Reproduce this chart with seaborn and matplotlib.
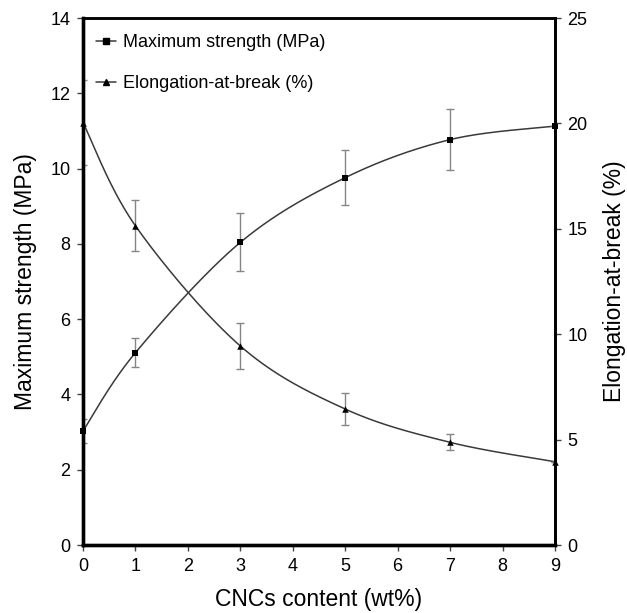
import numpy as np
import pandas as pd
import matplotlib
matplotlib.use("Agg")
import matplotlib.pyplot as plt
import seaborn as sns
from matplotlib.lines import Line2D

# CNC loading (wt%)
cnc_content = [0, 1, 3, 5, 7, 9]

# Maximum strength (MPa) with standard deviation
strength = [3.03, 5.11, 8.04, 9.76, 10.77, 11.13]
strength_err = [0.33, 0.39, 0.77, 0.74, 0.82, 0.0]

# Elongation at break (%) with standard deviation
elongation = [20.04, 15.14, 9.44, 6.45, 4.87, 3.95]
elongation_err = [2.0, 1.21, 1.11, 0.77, 0.38, 0.0]

x_ticks = [0, 1, 2, 3, 4, 5, 6, 7, 8, 9]
left_ticks = [0, 2, 4, 6, 8, 10, 12, 14]
right_ticks = [0, 5, 10, 15, 20, 25]


def smooth_curve(xs, ys, sx, sy, n=60):
    """Bezier smoothing through the points (Catmull-Rom style control points)."""
    p = np.column_stack([np.asarray(xs, float) * sx, np.asarray(ys, float) * sy])
    ext = np.vstack([p[0], p, p[-1]])
    t = np.linspace(0, 1, n)[:, None]
    parts = []
    for i in range(len(p) - 1):
        p0, p1, p2, p3 = ext[i], ext[i + 1], ext[i + 2], ext[i + 3]
        c1 = p1 + (p2 - p0) / 6.0
        c2 = p2 - (p3 - p1) / 6.0
        seg = ((1 - t) ** 3) * p1 + 3 * ((1 - t) ** 2) * t * c1 \
            + 3 * (1 - t) * t ** 2 * c2 + t ** 3 * p2
        parts.append(seg if i == 0 else seg[1:])
    pts = np.vstack(parts)
    return pts[:, 0] / sx, pts[:, 1] / sy


sns.set_theme(style="ticks")
plt.rcParams["font.family"] = ["Liberation Sans", "DejaVu Sans"]
plt.rcParams["text.color"] = "black"
plt.rcParams["axes.labelcolor"] = "black"
plt.rcParams["xtick.color"] = "black"
plt.rcParams["ytick.color"] = "black"

fig = plt.figure(figsize=(6.27, 6.13), dpi=100)
ax = fig.add_axes([0.1324, 0.1109, 0.7528, 0.8597])
ax2 = ax.twinx()

line_col = "#3a3a3a"
err_col = "#858585"

# scale factors: axes pixel extent per data unit
sx = 472 / 9.0
sy_left = 527 / 14.0
sy_right = 527 / 25.0

xs_s, ys_s = smooth_curve(cnc_content, strength, sx, sy_left)
xs_e, ys_e = smooth_curve(cnc_content, elongation, sx, sy_right)

sns.lineplot(x=xs_s, y=ys_s, ax=ax, sort=False, color=line_col, lw=1.1,
             estimator=None, legend=False)
sns.lineplot(x=xs_e, y=ys_e, ax=ax2, sort=False, color=line_col, lw=1.1,
             estimator=None, legend=False)

ax.errorbar(cnc_content, strength, yerr=strength_err, fmt="none",
            ecolor=err_col, elinewidth=1.0, capsize=3, capthick=1.0,
            zorder=2)
ax2.errorbar(cnc_content, elongation, yerr=elongation_err, fmt="none",
             ecolor=err_col, elinewidth=1.0, capsize=3, capthick=1.0,
             zorder=2)

sns.scatterplot(x=cnc_content, y=strength, ax=ax, marker="s", s=22,
                color="black", edgecolor="black", linewidth=0, zorder=4,
                clip_on=False, legend=False)
sns.scatterplot(x=cnc_content, y=elongation, ax=ax2, marker="^", s=22,
                color="black", edgecolor="black", linewidth=0, zorder=4,
                clip_on=False, legend=False)

ax.set_xlim(0, 9)
ax.set_ylim(0, 14)
ax2.set_ylim(0, 25)
ax.set_xticks(x_ticks)
ax.set_xticklabels([str(v) for v in x_ticks])
ax.set_yticks(left_ticks)
ax.set_yticklabels([str(v) for v in left_ticks])
ax2.set_yticks(right_ticks)
ax2.set_yticklabels([str(v) for v in right_ticks])

ax.tick_params(axis="both", direction="out", length=4, width=1.0,
               labelsize=13, pad=5, color="#444444", labelcolor="black")
ax2.tick_params(axis="y", direction="out", length=4, width=1.0,
                labelsize=13, pad=5, color="#444444", labelcolor="black")

for a in (ax, ax2):
    a.spines["left"].set_linewidth(2.4)
    a.spines["bottom"].set_linewidth(2.4)
    a.spines["right"].set_linewidth(2.0)
    a.spines["top"].set_linewidth(1.8)
    for s in a.spines.values():
        s.set_color("black")
        s.set_visible(True)
        s.set_zorder(3)

ax.set_xlabel("CNCs content (wt%)", fontsize=16.5, labelpad=10)
ax.set_ylabel("Maximum strength (MPa)", fontsize=16.5, labelpad=10)
ax2.set_ylabel("Elongation-at-break (%)", fontsize=16.5, labelpad=11)

handles = [
    Line2D([], [], color=line_col, lw=1.1, marker="s", markersize=4.5,
           markerfacecolor="black", markeredgecolor="black"),
    Line2D([], [], color=line_col, lw=1.1, marker="^", markersize=4.5,
           markerfacecolor="black", markeredgecolor="black"),
]
ax2.legend(handles, ["Maximum strength (MPa)", "Elongation-at-break (%)"],
           loc="upper left", bbox_to_anchor=(0.027, 0.969), frameon=False,
           fontsize=13, handlelength=1.1, handletextpad=0.4,
           labelspacing=1.33, borderpad=0, borderaxespad=0)

fig.savefig("out.png", dpi=100)
